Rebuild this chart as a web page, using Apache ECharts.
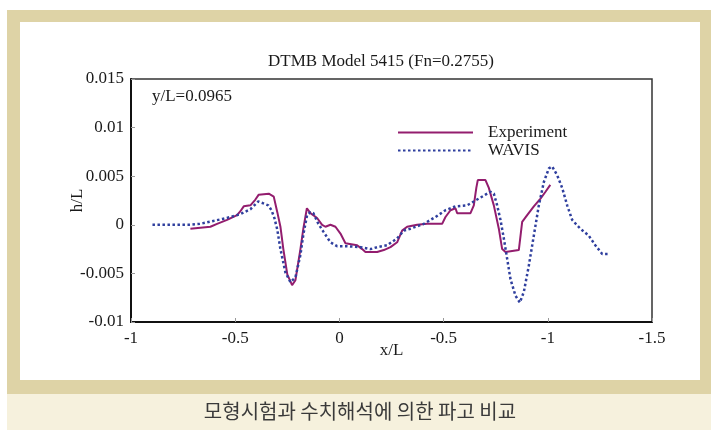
<!DOCTYPE html>
<html>
<head>
<meta charset="utf-8">
<script src="https://cdn.jsdelivr.net/npm/echarts@6/dist/echarts.min.js"></script>
<style>
  html, body { margin: 0; padding: 0; background: #ffffff; }
  #chart { width: 711px; height: 430px; }
</style>
</head>
<body>
<div id="chart"></div>
<script>
// Wave height along the hull, DTMB Model 5415, y/L = 0.0965
const xTickLabels = ['-1', '-0.5', '0', '-0.5', '-1', '-1.5'];

const experimentX = [
  -0.715, -0.619, -0.587, -0.539, -0.491, -0.475, -0.459, -0.427, -0.403, -0.387,
  -0.339, -0.315, -0.298, -0.283, -0.269, -0.250, -0.227, -0.211, -0.187, -0.173,
  -0.156, -0.139, -0.107, -0.083, -0.067, -0.043, -0.019, 0.005, 0.029, 0.085,
  0.109, 0.125, 0.181, 0.213, 0.245, 0.277, 0.301, 0.325, 0.373, 0.421,
  0.493, 0.509, 0.533, 0.557, 0.565, 0.629, 0.645, 0.657, 0.664, 0.701,
  0.717, 0.741, 0.765, 0.781, 0.797, 0.861, 0.877, 0.901, 0.933, 0.965,
  0.989, 1.012
];
const experimentH = [
  -0.0004, -0.0002, 0.0001, 0.0005, 0.0010, 0.0014, 0.0019, 0.0020, 0.0026, 0.0031,
  0.0032, 0.0029, 0.0013, -0.0002, -0.0025, -0.0051, -0.0062, -0.0057, -0.0025, -0.0004,
  0.0017, 0.0012, 0.0007, 0.0000, -0.0002, 0.0000, -0.0002, -0.0009, -0.0019, -0.0021,
  -0.0025, -0.0028, -0.0028, -0.0026, -0.0023, -0.0018, -0.0006, -0.0002, 0.0000, 0.0001,
  0.0001, 0.0008, 0.0015, 0.0017, 0.0012, 0.0012, 0.0020, 0.0038, 0.0046, 0.0046,
  0.0038, 0.0020, -0.0004, -0.0025, -0.0028, -0.0026, 0.0003, 0.0010, 0.0019, 0.0027,
  0.0034, 0.0041
];

const wavisX = [
  -0.897, -0.715, -0.667, -0.605, -0.561, -0.523, -0.475, -0.427, -0.389, -0.365,
  -0.341, -0.326, -0.312, -0.298, -0.283, -0.259, -0.235, -0.211, -0.187, -0.173,
  -0.155, -0.139, -0.125, -0.101, -0.077, -0.043, -0.011, 0.037, 0.101, 0.149,
  0.181, 0.229, 0.277, 0.309, 0.341, 0.405, 0.461, 0.509, 0.557, 0.613,
  0.661, 0.701, 0.725, 0.741, 0.757, 0.773, 0.789, 0.805, 0.821, 0.845,
  0.866, 0.885, 0.909, 0.933, 0.957, 0.981, 1.005, 1.021, 1.045, 1.069,
  1.093, 1.117, 1.156, 1.196, 1.228, 1.261, 1.292
];
const wavisH = [
  0.0000, 0.0000, 0.0001, 0.0004, 0.0006, 0.0008, 0.0011, 0.0016, 0.0024, 0.0022,
  0.0020, 0.0015, 0.0007, -0.0005, -0.0025, -0.0049, -0.0059, -0.0054, -0.0031, -0.0010,
  0.0010, 0.0013, 0.0012, 0.0001, -0.0007, -0.0018, -0.0022, -0.0022, -0.0023, -0.0025,
  -0.0023, -0.0021, -0.0014, -0.0006, -0.0004, 0.0001, 0.0008, 0.0015, 0.0019, 0.0020,
  0.0026, 0.0031, 0.0034, 0.0032, 0.0020, 0.0005, -0.0014, -0.0035, -0.0056, -0.0073,
  -0.0080, -0.0069, -0.0042, -0.0011, 0.0020, 0.0044, 0.0058, 0.0060, 0.0051, 0.0038,
  0.0020, 0.0005, -0.0004, -0.0011, -0.0021, -0.0030, -0.0030
];

const xMin = -1, xMax = 1.5, xStep = 0.5;
const serif = '"Liberation Serif", "DejaVu Serif", serif';
const ink = '#1a1a1a';

const pairs = (xs, ys) => xs.map((x, i) => [x, ys[i]]);

const chart = echarts.init(document.getElementById('chart'), null, { renderer: 'canvas' });

chart.setOption({
  backgroundColor: '#ffffff',
  animation: false,
  graphic: {
    elements: [
      // beige frame around the figure
      { type: 'rect', z: -10, shape: { x: 7, y: 10, width: 704, height: 384 }, style: { fill: '#ded3a6' } },
      { type: 'rect', z: -9, shape: { x: 20, y: 22, width: 680, height: 358 }, style: { fill: '#ffffff' } },
      // caption strip
      { type: 'rect', z: -10, shape: { x: 7, y: 394, width: 704, height: 36 }, style: { fill: '#f6f1dd' } }
    ]
  },
  title: [
    {
      text: 'DTMB Model 5415 (Fn=0.2755)',
      left: 381, top: 53, textAlign: 'center', padding: 0,
      textStyle: { fontFamily: serif, fontSize: 17, fontWeight: 'normal', color: ink }
    },
    {
      text: 'y/L=0.0965',
      left: 152, top: 88, padding: 0,
      textStyle: { fontFamily: serif, fontSize: 17, fontWeight: 'normal', color: ink }
    },
    {
      text: '모형시험과 수치해석에 의한 파고 비교',
      left: 360, top: 401, textAlign: 'center', padding: 0,
      textStyle: { fontFamily: '"Noto Sans CJK KR", sans-serif', fontSize: 20, fontWeight: 'normal', color: '#3a3a3a' }
    }
  ],
  legend: {
    orient: 'vertical',
    left: 397, top: 124, padding: 0,
    itemWidth: 75, itemHeight: 14, itemGap: 1,
    itemStyle: { opacity: 0 },
    textStyle: { fontFamily: serif, fontSize: 17, color: ink, padding: [0, 0, 0, 10] },
    data: ['Experiment', 'WAVIS']
  },
  grid: {
    left: 131, top: 79, right: 59, bottom: 108,
    show: true, borderColor: '#333', borderWidth: 1.5, backgroundColor: 'transparent'
  },
  xAxis: {
    type: 'value',
    min: xMin, max: xMax, interval: xStep,
    name: 'x/L', nameLocation: 'middle', nameGap: 20, nameMoveOverlap: false,
    nameTextStyle: { fontFamily: serif, fontSize: 17, color: ink },
    axisLine: { onZero: false, lineStyle: { color: '#111', width: 2 } },
    axisTick: { inside: true, length: 4, lineStyle: { color: '#999' } },
    splitLine: { show: false },
    axisLabel: {
      fontFamily: serif, fontSize: 17, color: ink, margin: 8,
      formatter: v => xTickLabels[Math.round((v - xMin) / xStep)]
    }
  },
  yAxis: {
    type: 'value',
    min: -0.01, max: 0.015, interval: 0.005,
    name: 'h/L', nameLocation: 'middle', nameGap: 45, nameRotate: 90, nameMoveOverlap: false,
    nameTextStyle: { fontFamily: serif, fontSize: 17, color: ink },
    axisLine: { onZero: false, lineStyle: { color: '#111', width: 2 } },
    axisTick: { inside: true, length: 4, lineStyle: { color: '#999' } },
    splitLine: { show: false },
    axisLabel: { fontFamily: serif, fontSize: 17, color: ink, margin: 7 }
  },
  series: [
    {
      name: 'Experiment',
      type: 'line',
      data: pairs(experimentX, experimentH),
      showSymbol: false, symbol: 'none',
      lineStyle: { color: '#931d6e', width: 2 },
      itemStyle: { color: '#931d6e' },
      z: 3
    },
    {
      name: 'WAVIS',
      type: 'line',
      data: pairs(wavisX, wavisH),
      showSymbol: false, symbol: 'none',
      lineStyle: { color: '#2f3f9e', width: 2.5, type: [2.5, 2.5] },
      itemStyle: { color: '#2f3f9e' },
      z: 4
    }
  ]
});
</script>
</body>
</html>
